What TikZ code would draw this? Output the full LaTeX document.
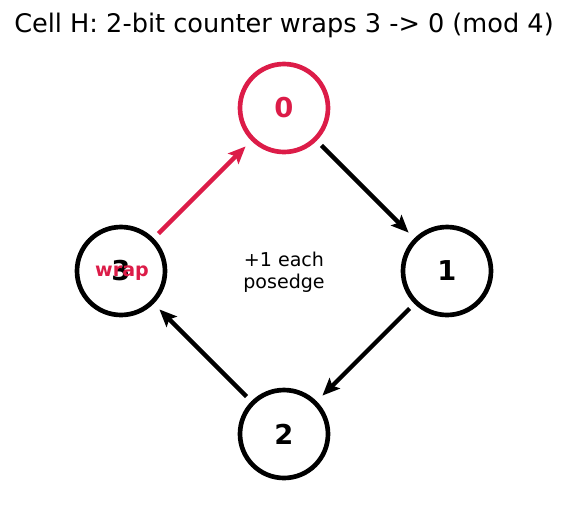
\documentclass[tikz,border=0pt]{standalone}
\usepackage{fontspec}
\setmainfont{DejaVu Sans}
\usetikzlibrary{arrows.meta}
\definecolor{wrapred}{RGB}{220,28,72}

\begin{document}
\begin{tikzpicture}[x=0.75pt, y=-0.75pt,
  state/.style={circle, draw=black, line width=3.5pt, minimum size=66pt, inner sep=0pt,
    font=\fontsize{20.5}{24}\selectfont\bfseries},
  edge/.style={line width=3.2pt, -{Stealth[length=13pt, width=11pt, inset=2.5pt]}, shorten <=5pt, shorten >=6pt}]
\useasboundingbox (0,0) rectangle (567,512);

% Title
\node (title) at (284,25) {\fontsize{19.2}{23}\selectfont Cell H: 2-bit counter wraps 3 -> 0 (mod 4)};

% States
\node[state, draw=wrapred, text=wrapred] (s0) at (284,108) {0};
\node[state] (s1) at (447,271) {1};
\node[state] (s2) at (284,434) {2};
\node[state] (s3) at (121,271) {3};

% Centre note
\node[align=center, font=\fontsize{14.3}{16.8}\selectfont] (note) at (284,272) {+1 each\\posedge};

% Transitions
\draw[edge] (s0) -- (s1);
\draw[edge] (s1) -- (s2);
\draw[edge] (s2) -- (s3);
\draw[edge, wrapred] (s3) -- (s0);

% Wrap label
\node[text=wrapred, font=\fontsize{14.3}{16.8}\selectfont\bfseries] (wrap) at (122,273) {wrap};
\end{tikzpicture}
\end{document}
